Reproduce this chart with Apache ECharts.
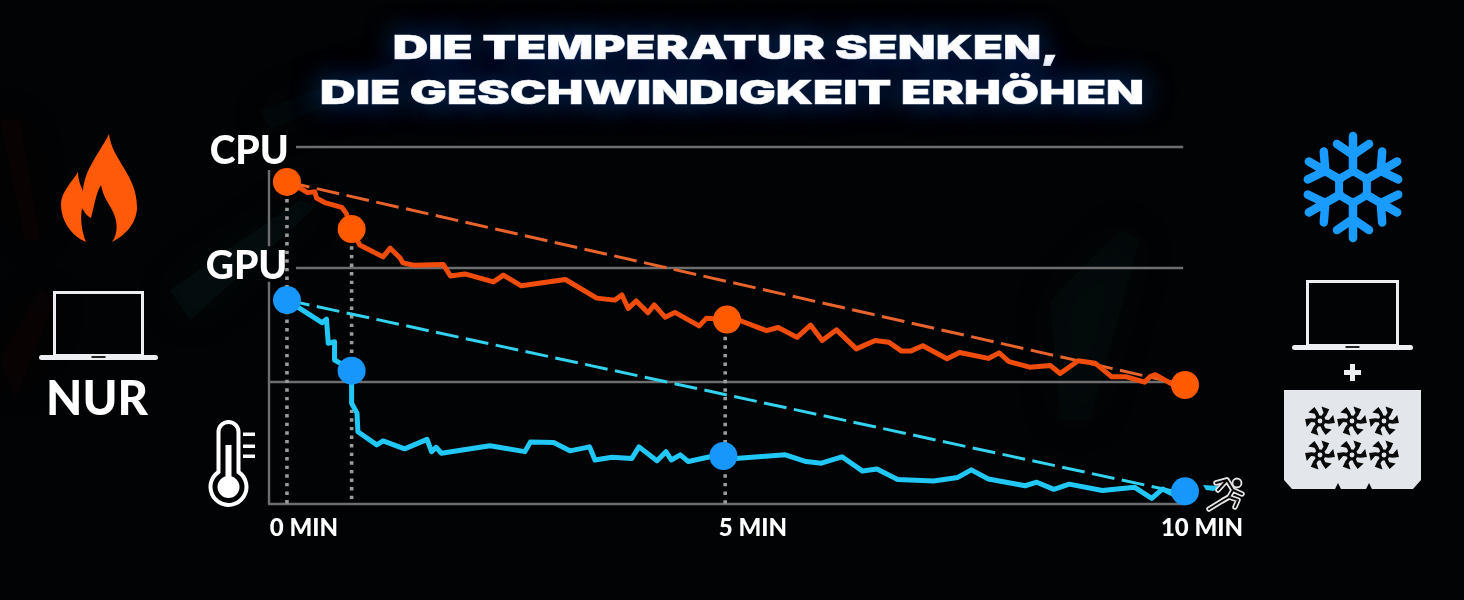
<!DOCTYPE html>
<html><head><meta charset="utf-8">
<style>html,body{margin:0;padding:0;background:#020304}#c{width:1464px;height:600px}</style>
<script src="https://cdn.jsdelivr.net/npm/echarts@6/dist/echarts.min.js"></script>
</head><body><div id="c"></div>
<script>
const titleLines = ['DIE TEMPERATUR SENKEN,', 'DIE GESCHWINDIGKEIT ERHÖHEN'];
const sideLabel = 'NUR';
const tickMinutes = [0, 5, 10];
const tickSuffix = ' MIN';
const cpuTemp = [[0,81.2],[.14,79.7],[.23,78.5],[.31,78.7],[.33,77.1],[.42,76],[.61,74.8],[.66,73.3],[.72,69.3],[.81,65.3],[1.07,62.3],[1.15,64.5],[1.26,62],[1.29,60.8],[1.41,60.2],[1.74,60.4],[1.82,57.5],[1.98,58],[2.3,56],[2.41,57.7],[2.61,55],[3.1,56.6],[3.45,51.9],[3.65,51.4],[3.73,52.7],[3.8,49.3],[3.89,51.2],[4.02,48.2],[4.09,50.2],[4.21,47.1],[4.32,48.3],[4.59,44.9],[4.67,46.8],[4.9,46.5],[5.05,46.2],[5.34,43.7],[5.47,44.5],[5.68,42],[5.83,45.1],[5.96,41.2],[6.12,43.9],[6.34,39.1],[6.55,41.2],[6.7,40.8],[6.84,38.6],[6.95,38.6],[7.08,39.9],[7.35,36.6],[7.49,38.2],[7.81,36.7],[7.93,38.1],[8.04,35.9],[8.27,34.5],[8.5,34.9],[8.61,32.9],[8.81,36.1],[9,35.5],[9.18,32.1],[9.34,32.1],[9.55,30.7],[9.61,32.1],[9.67,32.6],[9.84,30.4],[10,30]];
const gpuTemp = [[0,51.4],[.39,45.7],[.44,46.6],[.46,40.5],[.53,40.9],[.53,36.3],[.63,35],[.72,33.6],[.72,25.4],[.78,22.9],[.79,18.2],[1,14.9],[1.07,15.9],[1.31,13.9],[1.56,16.3],[1.61,13.2],[1.66,14.3],[1.72,12.8],[2.26,14.7],[2.65,13.2],[2.71,15.6],[2.97,15.5],[3.15,13.4],[3.37,14.4],[3.43,11.1],[3.62,11.8],[3.84,11.5],[3.92,14.4],[4.12,10.9],[4.22,13.2],[4.28,11.1],[4.38,12.4],[4.47,10.7],[4.71,11.9],[4.86,12.1],[4.99,11.5],[5.55,12.4],[5.78,10.7],[5.95,10.3],[6.18,11.9],[6.41,8.3],[6.57,8.8],[6.8,6.2],[7.2,5.8],[7.47,6.7],[7.62,8.6],[7.81,6.3],[8.22,4.6],[8.35,5.5],[8.54,3.7],[8.71,5],[9.08,3.4],[9.44,4.2],[9.63,1.4],[9.75,3.8],[9.88,2.3],[10,3.2]];
const cpuMarkers = [[0,81.2],[.72,69.3],[4.9,46.5],[10,30]];
const gpuMarkers = [[0,51.4],[.72,33.6],[4.86,12.1],[10,3.2]];
const cpuTrend = [[0,81.2],[10,30]];
const gpuTrend = [[0,51.4],[10,2.6]];
const dropLines = [[[0,81.2],[0,0]],[[.72,69.3],[.72,0]],[[4.88,46.5],[4.88,0]]];
const gridRows = [[[.1,90],[9.98,90]],[[.1,59.5],[9.98,59.5]],[[-.2,30.75],[9.98,30.75]]];
const leftAxis = [[-.2,84.2],[-.2,65],['-','-'],[-.2,56],[-.2,0]];
const seriesLabels = [[-.42,88.8,'CPU'],[-.45,59.8,'GPU']];

const ORANGE='#ff5a00', BLUE='#1796fb', WHITE='#ffffff', ICON='#eceef2', RULE='#6e6e6e';
const lineS=(data,color,width,extra)=>Object.assign({type:'line',data,showSymbol:false,silent:true,clip:false,animation:false,lineStyle:{color,width},z:2},extra||{});

function fanPath(){let s='';for(let i=0;i<6;i++){const a=i*Math.PI/3;
  const p=(r,d)=>{const t=a+d;return (r*Math.cos(t)).toFixed(1)+','+(r*Math.sin(t)).toFixed(1)};
  s+='M'+p(4,-.35)+'L'+p(9,-.12)+'L'+p(14.5,-.42)+'L'+p(15,.14)+'L'+p(9,.3)+'L'+p(4,.5)+'Z';}return s;}
function flakePath(){let s='';for(let i=0;i<6;i++){const a=i*Math.PI/3-Math.PI/2;
  const P=(x,y)=>{return (x*Math.cos(a)-y*Math.sin(a)).toFixed(1)+','+(x*Math.sin(a)+y*Math.cos(a)).toFixed(1)};
  s+='M'+P(15,0)+'L'+P(51,0)+'M'+P(32,0)+'L'+P(43,-16)+'M'+P(32,0)+'L'+P(43,16);}
  return s;}
function hexPath(){let s='';for(let i=0;i<6;i++){const a=i*Math.PI/3-Math.PI/2;s+=(i?'L':'M')+(16*Math.cos(a)).toFixed(1)+','+(16*Math.sin(a)).toFixed(1);}return s+'Z';}

function laptop(x,y,w,h){const bx=x-14,bw=w+28;return [
  {type:'rect',shape:{x:x+1.5,y:y+1.5,width:w-3,height:h},style:{fill:'none',stroke:ICON,lineWidth:3}},
  {type:'rect',shape:{x:bx,y:y+h+1,width:bw,height:5,r:2.5},style:{fill:ICON}},
  {type:'rect',shape:{x:x+w/2-7,y:y+h+2,width:14,height:2},style:{fill:'#222'}}];}
function icons(){const ch=[];
  ch.push({type:'path',shape:{pathData:'M109,134 C112,160 137,175 137,207 C137,224 124,236 112,242 C118,234 118,222 113,212 C109,203 103,197 101,185 C96,193 95,203 91,218 C87,216 84,212 82,208 C80,220 82,232 86,242 C72,236 61,222 61,204 C61,192 72,182 78,172 C78,180 81,186 83,191 C84,170 100,152 109,134 Z'},style:{fill:'#ff5a0a'}});
  ch.push(...laptop(53,291,91,63));
  ch.push(...laptop(1306,280,93,64));
  ch.push({type:'path',shape:{pathData:'M218.5,472 L218.5,432 A10,10 0 0 1 238.5,432 L238.5,472 A18,18 0 1 1 218.5,472 Z'},style:{fill:'none',stroke:WHITE,lineWidth:4}});
  ch.push({type:'circle',shape:{cx:228.5,cy:487,r:11},style:{fill:WHITE}});
  ch.push({type:'rect',shape:{x:225.5,y:445,width:6,height:35},style:{fill:WHITE}});
  [434,446,456].forEach(y=>ch.push({type:'rect',shape:{x:243,y:y-1.5,width:12,height:3.5},style:{fill:WHITE}}));
  ch.push({type:'group',x:1353,y:187,children:[
    {type:'path',shape:{pathData:flakePath()},style:{fill:'none',stroke:'#1a9bff',lineWidth:8.5,lineCap:'round',lineJoin:'round'}},
    {type:'path',shape:{pathData:hexPath()},style:{fill:'none',stroke:'#1a9bff',lineWidth:8,lineJoin:'round'}},
    {type:'path',shape:{pathData:hexPath()},scaleX:.66,scaleY:.66,style:{fill:'#020304'}}]});
  ch.push({type:'rect',shape:{x:1350,y:364,width:5,height:17},style:{fill:ICON}});
  ch.push({type:'rect',shape:{x:1344,y:370,width:17,height:5},style:{fill:ICON}});
  ch.push({type:'path',shape:{pathData:'M1284,390 L1421,390 L1421,480 L1413,489 L1372,489 L1369,483 L1366,489 L1341,489 L1338,483 L1335,489 L1292,489 L1284,480 Z'},style:{fill:'#e3e6ea'}});
  [[1320,421],[1352,421],[1384,421],[1320,455],[1352,455],[1384,455]].forEach(p=>{
    ch.push({type:'group',x:p[0],y:p[1],children:[
      {type:'path',shape:{pathData:fanPath()},style:{fill:'#0a0a0a'}},
      {type:'circle',shape:{cx:0,cy:0,r:5.5},style:{fill:'#0a0a0a'}},
      {type:'circle',shape:{cx:0,cy:0,r:2.4},style:{fill:'#e3e6ea'}}]});});
  ch.push({type:'path',shape:{pathData:'M1203,485 L1219,486 L1214,491 L1206,490 Z'},style:{fill:'#22c8f5'}});
  const body='M1216,483 L1227,480 L1233,490 L1229,497 L1238,500 L1235,507 M1229,497 L1222,501 L1209,509 M1233,490 L1242,494 M1227,480 L1218,490';
  ch.push({type:'path',shape:{pathData:body},style:{fill:'none',stroke:'#e6e6e6',lineWidth:5.5,lineCap:'round',lineJoin:'round'}});
  ch.push({type:'path',shape:{pathData:body},style:{fill:'none',stroke:'#0a0a0a',lineWidth:2,lineCap:'round',lineJoin:'round'}});
  ch.push({type:'circle',shape:{cx:1237,cy:483,r:4.5},style:{fill:'#0a0a0a',stroke:'#e6e6e6',lineWidth:1.8}});
  return ch;}

const titleStyle=t=>({text:t,fill:'#fff',stroke:'#fff',lineWidth:.7,align:'center',verticalAlign:'middle',font:'900 33px Inter',
  textShadowColor:'#0b3f86',textShadowBlur:30,shadowColor:'#0b3f86',shadowBlur:30});
const streak=(pts,c,o)=>({type:'polygon',silent:true,z:-1,shape:{points:pts},style:{fill:c,opacity:o,shadowColor:c,shadowBlur:40}});
const titleEl=(i,x,y)=>({type:'text',z:10,x,y,scaleX:1.49,silent:true,style:titleStyle(titleLines[i])});

const chart=echarts.init(document.getElementById('c'),null,{renderer:'canvas'});
chart.setOption({
  animation:false,backgroundColor:'#020304',
  grid:{left:269,right:279,top:147,bottom:96,containLabel:false},
  xAxis:{type:'value',min:-.2,max:10,splitLine:{show:false},axisTick:{show:false},
    axisLine:{show:true,onZero:false,lineStyle:{color:RULE,width:2.4}},
    axisLabel:{customValues:tickMinutes,formatter:v=>v+tickSuffix,color:WHITE,fontFamily:'Lato',fontWeight:900,fontSize:24,margin:12,padding:[0,0,0,34],showMinLabel:true,showMaxLabel:true,hideOverlap:false}},
  yAxis:{type:'value',min:0,max:90,show:false},
  series:[
    ...gridRows.map(r=>lineS(r,RULE,2.4,{z:1})),
    lineS(leftAxis,RULE,2.4,{z:1,connectNulls:false}),
    ...dropLines.map(r=>lineS(r,'#9b9b9b',3.6,{z:2,lineStyle:{color:'#9b9b9b',width:3.6,type:[3.4,5.2]}})),
    lineS(cpuTrend,'#e9632c',3,{lineStyle:{color:'#e9632c',width:3,type:[23,7.5]},z:3}),
    lineS(gpuTrend,'#33d2ee',3,{lineStyle:{color:'#33d2ee',width:3,type:[23,7.5]},z:3}),
    lineS(cpuTemp,'#f04d0c',5,{z:4,lineStyle:{color:'#f04d0c',width:5,join:'round'}}),
    lineS(gpuTemp,'#22c8f5',5,{z:4,lineStyle:{color:'#22c8f5',width:5,join:'round'}}),
    {type:'scatter',data:cpuMarkers,symbolSize:28,itemStyle:{color:ORANGE,opacity:1},z:5,silent:true,clip:false},
    {type:'scatter',data:gpuMarkers,symbolSize:28,itemStyle:{color:BLUE,opacity:1},z:5,silent:true,clip:false},
    {type:'scatter',data:seriesLabels,symbolSize:0,silent:true,z:6,clip:false,itemStyle:{opacity:1},
      label:{show:true,position:'inside',opacity:1,formatter:p=>p.data[2],color:WHITE,fontFamily:'Lato',fontWeight:900,fontSize:39}},
    {type:'custom',coordinateSystem:'none',data:[[0]],silent:true,z:7,clip:false,
      renderItem:()=>({type:'group',children:icons()})}
  ],
  graphic:{elements:[
    streak([[170,290],[300,200],[318,205],[190,320]],'#0e2a33',.18),
    streak([[0,120],[25,240],[40,240],[20,120]],'#2a0606',.16),
    streak([[0,360],[40,290],[55,300],[15,400]],'#2a0606',.14),
    streak([[1050,300],[1120,230],[1140,240],[1090,420],[1060,420]],'#0d1c20',.16),
    streak([[260,110],[400,60],[410,70],[270,130]],'#102029',.14),
    titleEl(0,726,49),
    titleEl(1,732,94),
    {type:'text',z:10,x:97,y:400,style:{text:sideLabel,fill:WHITE,font:'900 47px Lato',align:'center',verticalAlign:'middle'}}
  ]}
});
</script></body></html>
